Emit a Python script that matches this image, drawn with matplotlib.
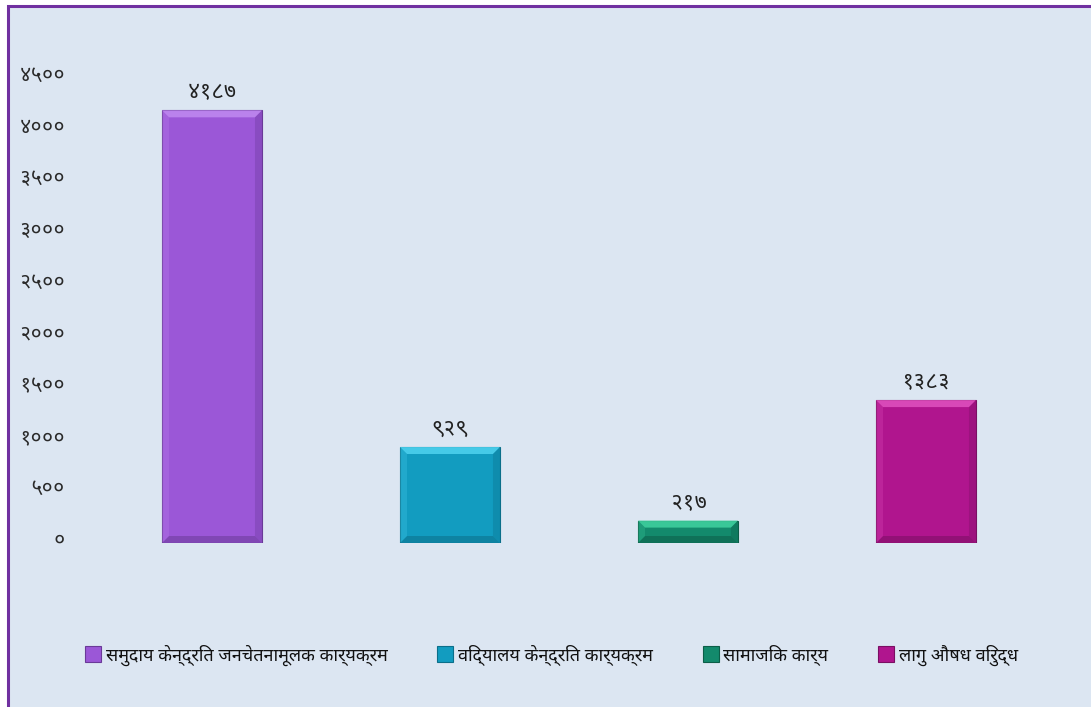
import os
import matplotlib
matplotlib.use("Agg")
import matplotlib.pyplot as plt
from matplotlib import font_manager as fm
from matplotlib.ft2font import FT2Font
from matplotlib.patches import Rectangle, Polygon
from matplotlib.lines import Line2D
import matplotlib.transforms as mtransforms
import numpy as np

# ---- data ----
categories = ["समुदाय केन्द्रित जनचेतनामूलक कार्यक्रम",
              "विद्यालय केन्द्रित कार्यक्रम",
              "सामाजिक कार्य",
              "लागु औषध विरुद्ध"]
values = [4187, 929, 217, 1383]
value_labels = ["४१८७", "९२९", "२१७", "१३८३"]
tick_values = [0, 500, 1000, 1500, 2000, 2500, 3000, 3500, 4000, 4500]
tick_labels = ["०", "५००", "१०००", "१५००", "२०००", "२५००", "३०००", "३५००", "४०००", "४५००"]
colors = ["#9B57D7", "#129CC0", "#138A6C", "#B0158E"]
light_colors = ["#C08AF0", "#4FD3F0", "#40D3A0", "#E052C0"]
dark_colors = ["#6A3A98", "#0B6F8A", "#0C5E48", "#7A0F63"]

# ---- font with Devanagari ----
files = fm.findSystemFonts()
preferred = ["NotoSansDevanagari-Regular", "NotoSansDevanagariUI-Regular", "Hind-Regular",
             "Sarala-Regular", "Mukta-Regular", "Kadwa-Regular"]
dev_file = None
for name in preferred:
    for f in files:
        if os.path.basename(f).startswith(name):
            dev_file = f
            break
    if dev_file:
        break
if dev_file is None:
    for f in files:
        if "unifont" in f.lower():
            continue
        try:
            ft = FT2Font(f)
            if ft.get_char_index(0x0915) and ft.get_char_index(0x0967):
                dev_file = f
                break
        except Exception:
            pass
families = []
if dev_file:
    fm.fontManager.addfont(dev_file)
    families.append(fm.FontProperties(fname=dev_file).get_name())
families += ["Noto Sans", "DejaVu Sans"]
plt.rcParams["font.family"] = families

W, H = 1091, 707
fig = plt.figure(figsize=(W / 100, H / 100), dpi=100)
fig.patch.set_facecolor("white")

# chart area background and border
bg = Rectangle((7.5 / W, -0.05), 1.2, (H - 5.5) / H + 0.05, transform=fig.transFigure,
               facecolor="#DCE6F2", edgecolor="#7030A0", linewidth=2.2, zorder=-5)
fig.patches.append(bg)

ax = fig.add_axes([93 / W, 1 - 543 / H, (1045 - 93) / W, (543 - 78) / H], zorder=1)
ax.set_facecolor("none")
x = np.arange(len(categories))
bars = ax.bar(x, values, width=0.42, color=colors, edgecolor=dark_colors, linewidth=0.8, zorder=2)
ax.set_xlim(-0.5, len(categories) - 0.5)
ax.set_ylim(0, 4500)
ax.set_yticks(tick_values)
ax.set_yticklabels(tick_labels, fontsize=15, color="#2a2a2a")
ax.set_xticks([])
ax.tick_params(axis="y", length=0, pad=20)
for s in ax.spines.values():
    s.set_visible(False)
shift = mtransforms.ScaledTranslation(0, 5 / 100, fig.dpi_scale_trans)
for lab in ax.get_yticklabels():
    lab.set_transform(lab.get_transform() + shift)

# bevel effect computed from each bar's geometry (pixel offsets)
fig.canvas.draw()
inv = fig.transFigure.inverted()


def P(pts):
    return [inv.transform(p) for p in pts]


for b, lc, dc in zip(bars, light_colors, dark_colors):
    bb = b.get_window_extent()
    x0, y0, x1, y1 = bb.x0, bb.y0, bb.x1, bb.y1
    d = min(7, (y1 - y0) / 2.5)
    top = Polygon(P([(x0, y1), (x1, y1), (x1 - d, y1 - d), (x0 + d, y1 - d)]),
                  transform=fig.transFigure, facecolor=lc, edgecolor="none", alpha=0.85, zorder=3)
    bot = Polygon(P([(x0, y0), (x1, y0), (x1 - d, y0 + d), (x0 + d, y0 + d)]),
                  transform=fig.transFigure, facecolor=dc, edgecolor="none", alpha=0.55, zorder=3)
    left = Polygon(P([(x0, y0), (x0, y1), (x0 + d, y1 - d), (x0 + d, y0 + d)]),
                   transform=fig.transFigure, facecolor=lc, edgecolor="none", alpha=0.25, zorder=3)
    right = Polygon(P([(x1, y0), (x1, y1), (x1 - d, y1 - d), (x1 - d, y0 + d)]),
                    transform=fig.transFigure, facecolor=dc, edgecolor="none", alpha=0.35, zorder=3)
    for p in (top, bot, left, right):
        fig.patches.append(p)

# value labels
for xi, v, lab in zip(x, values, value_labels):
    ax.annotate(lab, (xi, v), xytext=(0, 5), textcoords="offset points",
                ha="center", va="bottom", fontsize=16, color="#222222")

# legend
handles = [Line2D([0], [0], marker="s", linestyle="none", markersize=11,
                  markerfacecolor=c, markeredgecolor=dc, markeredgewidth=0.8)
           for c, dc in zip(colors, dark_colors)]
fig.legend(handles, categories, loc="center", bbox_to_anchor=(552 / W, 1 - 655 / H),
           ncol=4, frameon=False, fontsize=13, handletextpad=0.3, columnspacing=2.8,
           handlelength=0.8, labelcolor="#111111")

fig.savefig("out.png", dpi=100, facecolor=fig.get_facecolor())
